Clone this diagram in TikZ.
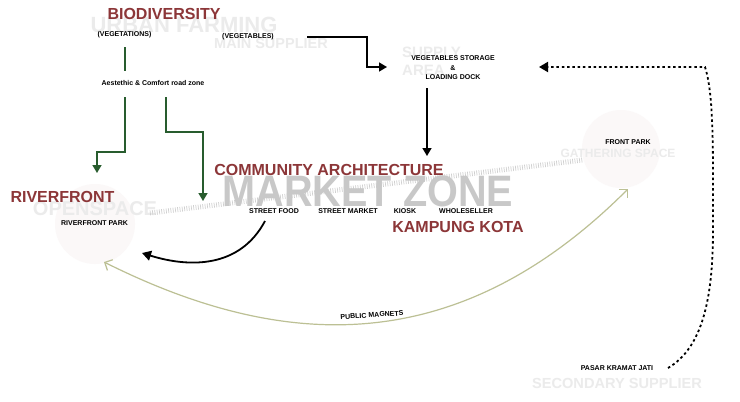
\documentclass[tikz,border=0pt]{standalone}
\usepackage{fontspec}
\setmainfont{Liberation Sans}
\usetikzlibrary{arrows.meta}
\definecolor{titlered}{RGB}{140,54,56}
\definecolor{ghost}{RGB}{235,235,235}
\definecolor{marketgray}{RGB}{200,200,200}
\definecolor{leafgreen}{RGB}{40,92,46}
\definecolor{olivearc}{RGB}{188,192,148}
\definecolor{parkfill}{RGB}{251,248,248}
\definecolor{hatchgray}{RGB}{208,208,208}
\tikzset{
  title/.style={font=\fontsize{16}{18}\selectfont\bfseries, text=titlered, inner sep=0pt},
  small/.style={font=\fontsize{7}{9.5}\selectfont\bfseries, text=black, inner sep=0pt},
  ghosttext/.style={text=ghost, inner sep=0pt},
  parkcircle/.style={circle, fill=parkfill, draw=none, inner sep=0pt},
  greenline/.style={draw=leafgreen, line width=1.4pt},
  greenarrow/.style={greenline, -{Triangle[length=8pt,width=9pt]}},
  blackarrow/.style={draw=black, line width=1.5pt, -{Triangle[length=8pt,width=9pt]}},
  curvearrow/.style={draw=black, line width=1.8pt, -{Triangle[length=9pt,width=10pt]}},
  magnetarrow/.style={draw=olivearc, line width=1.2pt, {Straight Barb[length=6pt,width=12pt]}-{Straight Barb[length=6pt,width=12pt]}},
  supplyarrow/.style={draw=black, line width=1.8pt, dash pattern=on 2.5pt off 2.8pt, -{Triangle[length=9pt,width=10pt]}},
  hatchline/.style={draw=hatchgray, line width=5pt, dash pattern=on 0.7pt off 1.6pt}
}
\begin{document}
\begin{tikzpicture}[x=1pt,y=-1pt]
\fill[white] (0,0) rectangle (740,402);
\useasboundingbox (0,0) rectangle (740,402);

% faint circles
\node[parkcircle, minimum size=80pt] (rivercircle) at (95,224) {};
\node[parkcircle, minimum size=78pt] (frontcircle) at (621,149) {};

% ghost labels
\node[ghosttext, font=\fontsize{22}{24}\selectfont\bfseries] (urban) at (184,25) {URBAN FARMING};
\node[ghosttext, font=\fontsize{14.5}{16}\selectfont\bfseries] (mainsup) at (271,44) {MAIN SUPPLIER};
\node[ghosttext, font=\fontsize{15}{16}\selectfont\bfseries, anchor=west] (supply) at (402,52) {SUPPLY};
\node[ghosttext, font=\fontsize{15}{16}\selectfont\bfseries, anchor=west] (area) at (402,70) {AREA};
\node[ghosttext, font=\fontsize{20}{22}\selectfont\bfseries] (openspace) at (95,209) {OPENSPACE};
\node[ghosttext, font=\fontsize{12}{14}\selectfont\bfseries] (gathering) at (618,153) {GATHERING SPACE};
\node[ghosttext, font=\fontsize{14.6}{16}\selectfont\bfseries] (secondary) at (617,383) {SECONDARY SUPPLIER};

% hatched link
\coordinate (hatchA) at (150,213);
\coordinate (hatchB) at (583,160);
\draw[hatchline] (hatchA) -- (hatchB);

% market zone
\node[font=\fontsize{44}{46}\selectfont\bfseries, text=marketgray, inner sep=0pt, xscale=0.9] (market) at (368,191) {MARKET ZONE};

% titles
\node[title] (bio) at (164,14) {BIODIVERSITY};
\node[title] (community) at (329,170) {COMMUNITY ARCHITECTURE};
\node[title] (riverfront) at (62.5,197) {RIVERFRONT};
\node[title] (kampung) at (458,227) {KAMPUNG KOTA};

% small labels
\node[small] (vegetations) at (124.5,35) {(VEGETATIONS)};
\node[small] (vegetables) at (248,37) {(VEGETABLES)};
\node[small] (aesthetic) at (153,83) {Aestethic \& Comfort road zone};
\node[small, align=center] (storage) at (453,68) {VEGETABLES STORAGE\\\&\\LOADING DOCK};
\node[small] (streetfood) at (274,211) {STREET FOOD};
\node[small] (streetmarket) at (348,211) {STREET MARKET};
\node[small] (kiosk) at (405,211) {KIOSK};
\node[small] (wholeseller) at (466,211) {WHOLESELLER};
\node[small] (riverpark) at (94.5,223) {RIVERFRONT PARK};
\node[small] (frontpark) at (628,142) {FRONT PARK};
\node[small, rotate=3.5] (magnets) at (372,315) {PUBLIC MAGNETS};
\node[small] (pasar) at (617,368) {PASAR KRAMAT JATI};

% green connectors
\coordinate (g1a) at (125,47);
\coordinate (g1b) at (125,71);
\draw[greenline] (g1a) -- (g1b);
\coordinate (g2a) at (125,97);
\coordinate (g2b) at (97,173);
\draw[greenarrow] (g2a) -- (125,152) -- (97,152) -- (g2b);
\coordinate (g3a) at (166,97);
\coordinate (g3b) at (203,201);
\draw[greenarrow] (g3a) -- (166,132) -- (203,132) -- (g3b);

% black connectors
\coordinate (vegA) at (307,37);
\coordinate (vegB) at (387,67);
\draw[blackarrow] (vegA) -- (367,37) -- (367,67) -- (vegB);
\coordinate (stoA) at (427,88);
\coordinate (stoB) at (427,156);
\draw[blackarrow] (stoA) -- (stoB);
\coordinate (foodA) at (265,221);
\coordinate (foodB) at (142,253);
\draw[curvearrow] (foodA) .. controls (240,268) and (190,268) .. (foodB);

% public magnets arc
\coordinate (magA) at (104,262);
\coordinate (magB) at (628,189);
\draw[magnetarrow] (magA) .. controls (284,352) and (458,359) .. (magB);

% secondary supply dashed
\coordinate (pasarEnd) at (668,368);
\coordinate (supTip) at (539,67);
\draw[supplyarrow] (pasarEnd) .. controls (702,348) and (713,300) .. (713,230) .. controls (713,150) and (714,95) .. (705,67) -- (supTip);
\end{tikzpicture}
\end{document}
